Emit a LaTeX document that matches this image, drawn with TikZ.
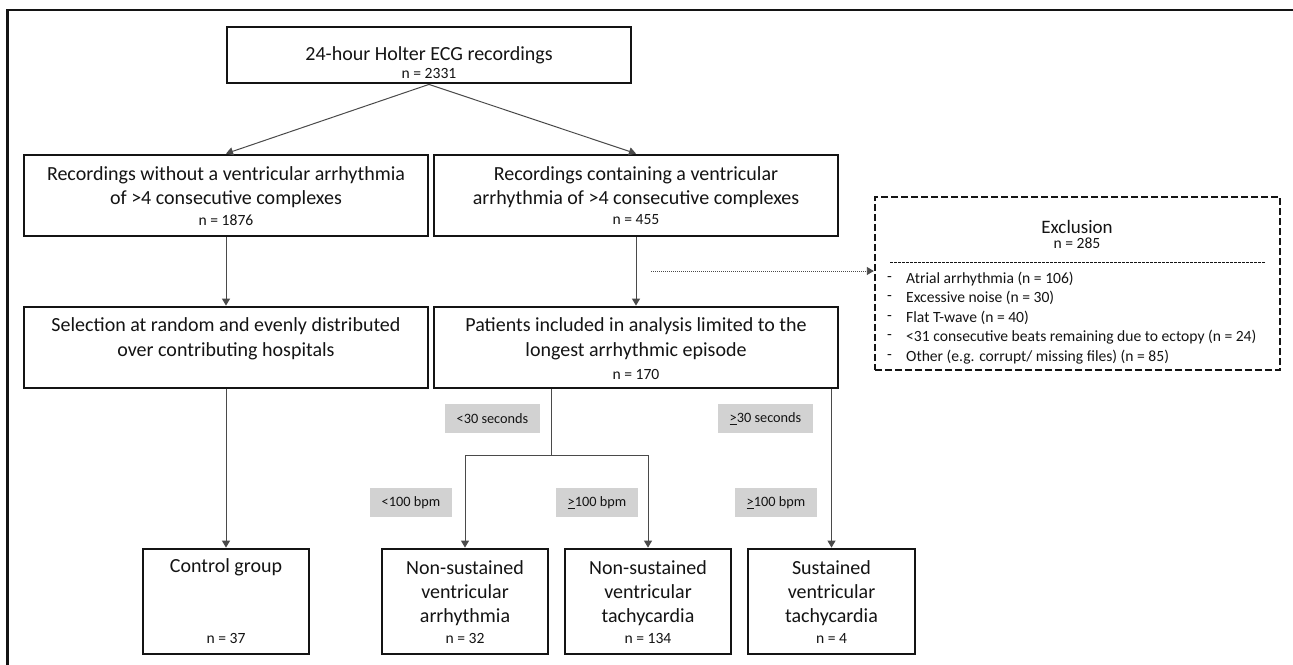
\documentclass[tikz,border=0pt]{standalone}
\usepackage{fontspec}
\setmainfont{Carlito}
\usetikzlibrary{arrows.meta,fit}
\definecolor{ink}{HTML}{141414}
\definecolor{cline}{HTML}{4A4A4A}
\definecolor{labelgray}{HTML}{D2D2D2}
\newcommand\szmain{\fontsize{20}{24.5}\selectfont}
\newcommand\szn{\fontsize{15.6}{18}\selectfont}
\newcommand\szlab{\fontsize{14.3}{17}\selectfont}
\newcommand\szexc{\fontsize{15.6}{18}\selectfont}
\tikzset{
  box/.style={draw=ink, line width=2.8pt, rectangle, inner sep=0pt},
  exbox/.style={draw=ink, line width=2.4pt, dash pattern=on 7pt off 3pt, rectangle, inner sep=0pt},
  maintext/.style={text=ink, inner sep=0pt, font=\szmain},
  ntext/.style={text=ink, inner sep=0pt, font=\szn},
  graylab/.style={fill=labelgray, text=ink, inner sep=0pt, font=\szlab},
  listtext/.style={text=ink, inner sep=0pt, font=\szexc, anchor=west},
  arrowline/.style={draw=cline, line width=1pt, -{Triangle[length=7pt,width=8pt]}},
  plainline/.style={draw=cline, line width=1pt},
  dotarrow/.style={draw=cline, line width=0.9pt, dash pattern=on 1pt off 1pt, -{Triangle[length=7pt,width=8pt]}},
}
\begin{document}
\begin{tikzpicture}[x=1pt,y=-1pt]
\useasboundingbox (0,0) rectangle (1293,664);
\clip (0,0) rectangle (1293,664);
\fill[white] (0,0) rectangle (1293,664);
% outer frame (runs past right and bottom edges)
\draw[draw=ink, line width=2.6pt] (7.5,10) rectangle (1320,700);

% boxes
\node[box, fit={(227,27) (631,83)}] (T) {};
\node[box, fit={(24,155) (428,236)}] (L1) {};
\node[box, fit={(434,155) (838,236)}] (R1) {};
\node[box, fit={(24,307) (428,388)}] (L2) {};
\node[box, fit={(434,307) (838,388)}] (R2) {};
\node[box, fit={(143,549) (309,654)}] (CG) {};
\node[box, fit={(382,549) (548,654)}] (NSVA) {};
\node[box, fit={(565,549) (731,654)}] (NSVT) {};
\node[box, fit={(748,549) (915,654)}] (SVT) {};
\node[exbox, fit={(875,197) (1280,370)}] (EX) {};

% texts
\node[maintext] (Ta) at (429,55) {24-hour Holter ECG recordings};
\node[ntext] (Tn) at (429,73) {n = 2331};

\node[maintext] (L1a) at (226,175) {Recordings without a ventricular arrhythmia};
\node[maintext] (L1b) at (226,199) {of >4 consecutive complexes};
\node[ntext] (L1n) at (226,220) {n = 1876};

\node[maintext] (R1a) at (636,175) {Recordings containing a ventricular};
\node[maintext] (R1b) at (636,199) {arrhythmia of >4 consecutive complexes};
\node[ntext] (R1n) at (636,220) {n = 455};

\node[maintext] (L2a) at (226,326) {Selection at random and evenly distributed};
\node[maintext] (L2b) at (226,351) {over contributing hospitals};

\node[maintext] (R2a) at (636,326) {Patients included in analysis limited to the};
\node[maintext] (R2b) at (636,351) {longest arrhythmic episode};
\node[ntext] (R2n) at (636,374) {n = 170};

\node[maintext] (CGa) at (226,567) {Control group};
\node[ntext] (CGn) at (226,638) {n = 37};

\node[maintext] (NSVAa) at (465,568) {Non-sustained};
\node[maintext] (NSVAb) at (465,592) {ventricular};
\node[maintext] (NSVAc) at (465,617) {arrhythmia};
\node[ntext] (NSVAn) at (465,638) {n = 32};

\node[maintext] (NSVTa) at (648,568) {Non-sustained};
\node[maintext] (NSVTb) at (648,592) {ventricular};
\node[maintext] (NSVTc) at (648,617) {tachycardia};
\node[ntext] (NSVTn) at (648,638) {n = 134};

\node[maintext] (SVTa) at (831.5,568) {Sustained};
\node[maintext] (SVTb) at (831.5,592) {ventricular};
\node[maintext] (SVTc) at (831.5,617) {tachycardia};
\node[ntext] (SVTn) at (831.5,638) {n = 4};

% exclusion box contents
\node[text=ink, inner sep=0pt, font=\fontsize{19}{22}\selectfont] (EXa) at (1077,227) {Exclusion};
\node[ntext] (EXn) at (1077,243) {n = 285};
\draw[draw=ink, line width=0.6pt, dash pattern=on 2.5pt off 1.5pt] (890,262) -- (1265,262);
\foreach \yy/\nm/\txt in {279/e1/{Atrial arrhythmia (n = 106)}, 298/e2/{Excessive noise (n = 30)}, 318/e3/{Flat T-wave (n = 40)}, 337/e4/{<31 consecutive beats remaining due to ectopy (n = 24)}, 357/e5/{Other (e.g. corrupt/ missing files) (n = 85)}}{
  \node[listtext] (\nm d) at (887,\yy) {-};
  \node[listtext] (\nm) at (906,\yy) {\txt};
}

% gray condition labels
\node[graylab, fit={(445,404) (540,433)}] (lab1) {};
\node[ntext, font=\szlab] (lab1t) at (lab1.center) {<30 seconds};
\node[graylab, fit={(718,404) (813,433)}] (lab2) {};
\node[ntext, font=\szlab] (lab2t) at (lab2.center) {\underline{>}30 seconds};
\node[graylab, fit={(370,488) (452,517)}] (lab3) {};
\node[ntext, font=\szlab] (lab3t) at (lab3.center) {<100 bpm};
\node[graylab, fit={(556,488) (638,517)}] (lab4) {};
\node[ntext, font=\szlab] (lab4t) at (lab4.center) {\underline{>}100 bpm};
\node[graylab, fit={(735,488) (817,517)}] (lab5) {};
\node[ntext, font=\szlab] (lab5t) at (lab5.center) {\underline{>}100 bpm};

% connectors
\draw[arrowline] (T.south) -- (L1.north);
\draw[arrowline] (T.south) -- (R1.north);
\draw[arrowline] (L1.south) -- (L2.north);
\draw[arrowline] (R1.south) -- (R2.north);
\draw[arrowline] (L2.south) -- (CG.north);
\coordinate (br) at (551,455);
\draw[plainline] (br |- R2.south) -- (br);
\draw[arrowline] (br) -| (NSVA.north);
\draw[arrowline] (br) -| (NSVT.north);
\draw[arrowline] (SVT.north |- R2.south) -- (SVT.north);
\coordinate (dstart) at (651,271);
\draw[dotarrow] (dstart) -- (dstart -| EX.west);
\end{tikzpicture}
\end{document}
